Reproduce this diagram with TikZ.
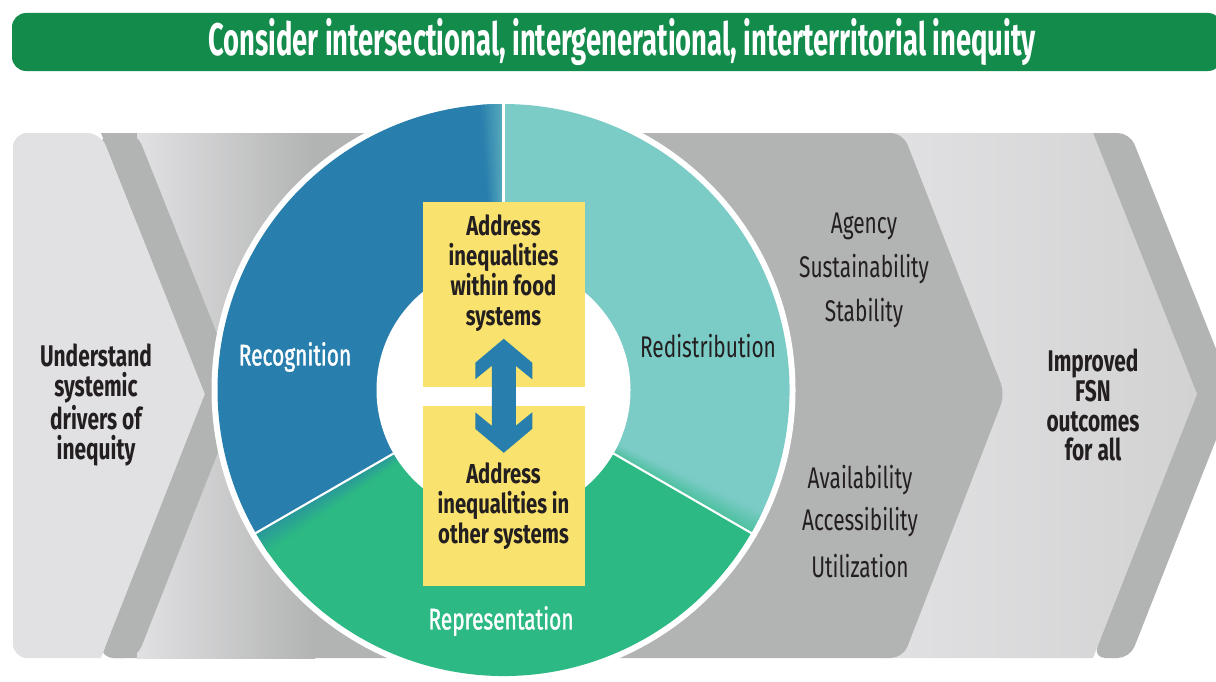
\documentclass[tikz,border=0pt]{standalone}
\usepackage{fontspec}
\setmainfont{Fira Sans}[FakeStretch=0.7]
\newfontfamily\bannerfont{Fira Sans}[FakeStretch=0.6]
\newfontfamily\boxfont{Fira Sans}[FakeStretch=0.74]
\newfontfamily\medfont{Fira Sans}[FakeStretch=0.7,FakeBold=1.2]
\usepackage{tikz}

\definecolor{bannergreen}{HTML}{128B4B}
\definecolor{recblue}{HTML}{287EAD}
\definecolor{redteal}{HTML}{7BCBC6}
\definecolor{repgreen}{HTML}{2CB983}
\definecolor{boxyellow}{HTML}{F9E26D}
\definecolor{lgray}{HTML}{E1E1E3}
\definecolor{mgray}{HTML}{D2D2D3}
\definecolor{dgray}{HTML}{B2B3B3}
\definecolor{txt}{HTML}{231F20}

\begin{document}
\begin{tikzpicture}[x=0.02cm,y=0.02cm,
    lbl/.style={font=\fontsize{17}{17}\selectfont,text=txt,align=center,inner sep=0pt},
    blbl/.style={font=\fontsize{17}{17}\selectfont\bfseries,text=txt,align=center,inner sep=0pt},
    wlbl/.style={font=\medfont\fontsize{17}{17}\selectfont,text=white,align=center,inner sep=0pt},
    ylbl/.style={font=\boxfont\fontsize{15.6}{17}\selectfont\bfseries,text=txt,align=center,inner sep=0pt}]
    \useasboundingbox (0,0) rectangle (1216,681);
    \clip (0,0) rectangle (1216,681);
    % banner
    \fill [bannergreen, rounded corners=8pt] (12,610) rectangle (1222,668);
    \node [font=\bannerfont\fontsize{26}{26}\selectfont\bfseries, text=white] (banner) at (622,639)
        {Consider intersectional, intergenerational, interterritorial inequity};
    % chevrons
    \shade [left color=lgray, right color=mgray] (880,548) -- (1093,548) -- (1197,287) -- (1093,23) -- (880,23) -- cycle;
    \fill [dgray, rounded corners=7pt] (1093,548) -- (1130,548) -- (1234,287) -- (1130,23) -- (1093,23) [sharp corners] -- (1197,287) -- cycle;
    \fill [dgray, rounded corners=7pt] (101,548) -- (903,548) -- (1005,287) -- (903,23) -- (101,23) -- cycle;
    \shade [left color=lgray, right color=dgray] (137,23) rectangle (315,548);
    \fill [lgray, rounded corners=8pt] (101,23) -- (13,23) -- (13,548) -- (101,548) [sharp corners] -- (205,287) -- cycle;
    \fill [dgray, rounded corners=7pt] (101,548) -- (137,548) -- (241,287) -- (137,23) -- (101,23) [sharp corners] -- (205,287) -- cycle;
    % wheel
    \coordinate (c) at (503.5,291);
    \fill [white] (c) circle (292);
    \foreach \a/\own/\nb in {90/recblue/redteal, -30/redteal/repgreen, 210/repgreen/recblue} {
        \fill [\own] (c) -- ++(\a:286) arc [start angle=\a, end angle=\a+120, radius=286] -- cycle;
        \foreach \k in {0,...,9} {
            \pgfmathsetmacro\p{45+6*\k}
            \colorlet{mixc}{\own!\p!\nb}
            \fill [mixc] (c) -- ++(\a+\k*0.5:286) arc [start angle=\a+\k*0.5, end angle=\a+\k*0.5+0.6, radius=286] -- cycle;
        }
    }
    \foreach \a in {90,210,330}
        \draw [white, line width=1.2pt] (c) ++(\a:127) -- ++(\a:165);
    \fill [white] (c) circle (127);
    % boxes
    \fill [boxyellow] (422.7,294.3) rectangle (585,478.7);
    \fill [boxyellow] (422.7,95) rectangle (585,275);
    \coordinate (m) at (503.75,285.2);
    \fill [recblue] (m) ++(0,57) -- ++(28.5,-24) -- ++(0,-16.5) -- ++(-16.5,13.5) -- ++(0,-60)
        -- ++(16.5,13.5) -- ++(0,-16.5) -- ++(-28.5,-24) -- ++(-28.5,24) -- ++(0,16.5)
        -- ++(16.5,-13.5) -- ++(0,60) -- ++(-16.5,-13.5) -- ++(0,16.5) -- cycle;
    \node [ylbl] (within) at (503.5,408) {Address\\inequalities\\within food\\systems};
    \node [ylbl] (other) at (503.5,175) {Address\\inequalities in\\other systems};
    % labels
    \node [wlbl] (recog) at (295,324) {Recognition};
    \node [lbl] (redis) at (708,335) {Redistribution};
    \node [wlbl] (repr) at (501,60) {Representation};
    \node [blbl] (drivers) at (96,276) {Understand\\systemic\\drivers of\\inequity};
    \node [blbl] (fsn) at (1093,276) {Improved\\FSN\\outcomes\\for all};
    \node [lbl] (agency) at (864,455) {Agency};
    \node [lbl] (sust) at (864,412) {Sustainability};
    \node [lbl] (stab) at (864,368) {Stability};
    \node [lbl] (avail) at (860,201) {Availability};
    \node [lbl] (access) at (860,159) {Accessibility};
    \node [lbl] (util) at (860,115) {Utilization};
\end{tikzpicture}
\end{document}
